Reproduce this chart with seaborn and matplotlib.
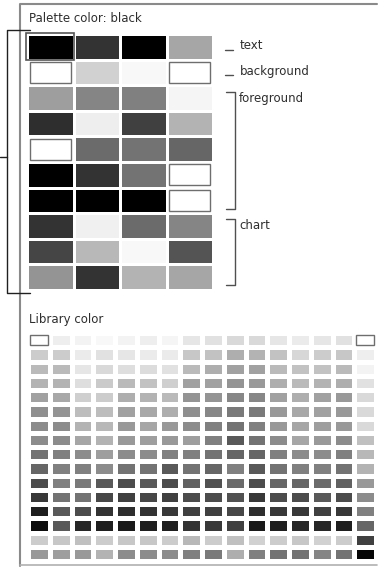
import matplotlib
matplotlib.use("Agg")
import matplotlib.pyplot as plt
import numpy as np
import seaborn as sns
from matplotlib.patches import Rectangle

# palette grid: gray level (0 = black, 1 = white), 10 rows x 4 columns
palette_rows = [
    [0.00, 0.20, 0.00, 0.65],
    [1.00, 0.82, 0.97, 1.00],
    [0.62, 0.52, 0.50, 0.96],
    [0.18, 0.93, 0.25, 0.70],
    [1.00, 0.42, 0.45, 0.40],
    [0.00, 0.20, 0.45, 1.00],
    [0.00, 0.00, 0.00, 1.00],
    [0.20, 0.94, 0.42, 0.52],
    [0.27, 0.72, 0.97, 0.33],
    [0.58, 0.20, 0.70, 0.65],
]
selected_cell = (0, 0)

# label groups to the right of the palette: (label, first row, last row)
palette_groups = [
    ("text", 0, 0),
    ("background", 1, 1),
    ("foreground", 2, 6),
    ("chart", 7, 9),
]

# library grid: 16 rows x 16 columns of gray levels
library_rows = [
    [1.00, 0.93, 0.95, 0.97, 0.95, 0.93, 0.96, 0.90, 0.88, 0.85, 0.85, 0.90, 0.92, 0.90, 0.88, 1.00],
    [0.80, 0.80, 0.92, 0.88, 0.90, 0.92, 0.92, 0.78, 0.76, 0.68, 0.70, 0.76, 0.84, 0.80, 0.78, 0.93],
    [0.73, 0.73, 0.90, 0.85, 0.87, 0.86, 0.88, 0.73, 0.68, 0.63, 0.63, 0.73, 0.76, 0.76, 0.73, 0.95],
    [0.70, 0.70, 0.87, 0.79, 0.73, 0.76, 0.81, 0.63, 0.63, 0.58, 0.60, 0.68, 0.73, 0.70, 0.68, 0.88],
    [0.63, 0.66, 0.81, 0.80, 0.68, 0.70, 0.73, 0.58, 0.58, 0.53, 0.53, 0.63, 0.68, 0.63, 0.60, 0.85],
    [0.56, 0.58, 0.74, 0.74, 0.63, 0.66, 0.68, 0.56, 0.53, 0.48, 0.48, 0.60, 0.66, 0.63, 0.60, 0.85],
    [0.55, 0.55, 0.70, 0.72, 0.60, 0.65, 0.60, 0.55, 0.50, 0.45, 0.50, 0.60, 0.65, 0.62, 0.60, 0.85],
    [0.55, 0.55, 0.65, 0.70, 0.60, 0.62, 0.60, 0.62, 0.50, 0.35, 0.45, 0.55, 0.65, 0.60, 0.55, 0.75],
    [0.45, 0.50, 0.55, 0.62, 0.55, 0.55, 0.50, 0.50, 0.45, 0.40, 0.40, 0.50, 0.55, 0.55, 0.50, 0.72],
    [0.40, 0.50, 0.50, 0.55, 0.45, 0.45, 0.35, 0.45, 0.40, 0.50, 0.35, 0.45, 0.50, 0.50, 0.45, 0.70],
    [0.30, 0.50, 0.48, 0.35, 0.30, 0.35, 0.30, 0.38, 0.32, 0.42, 0.30, 0.40, 0.40, 0.42, 0.38, 0.60],
    [0.22, 0.45, 0.45, 0.28, 0.25, 0.28, 0.25, 0.30, 0.30, 0.32, 0.22, 0.30, 0.30, 0.35, 0.30, 0.55],
    [0.12, 0.35, 0.30, 0.20, 0.18, 0.20, 0.22, 0.25, 0.25, 0.28, 0.18, 0.22, 0.22, 0.25, 0.22, 0.50],
    [0.05, 0.35, 0.15, 0.12, 0.10, 0.12, 0.12, 0.20, 0.22, 0.25, 0.10, 0.12, 0.15, 0.15, 0.12, 0.40],
    [0.80, 0.78, 0.75, 0.80, 0.78, 0.78, 0.80, 0.72, 0.80, 0.75, 0.82, 0.80, 0.78, 0.82, 0.80, 0.25],
    [0.60, 0.62, 0.60, 0.70, 0.55, 0.55, 0.55, 0.50, 0.48, 0.68, 0.50, 0.45, 0.45, 0.52, 0.45, 0.02],
]

palette_title = "Palette color: black"
library_title = "Library color"

W, H = 378, 567
INK = "#2e2e2e"
FRAME = "#8a8a8a"
FS = 8.5


def px_axes(fig, x0, y0, x1, y1):
    return fig.add_axes([x0 / W, 1 - y1 / H, (x1 - x0) / W, (y1 - y0) / H])


def outline_white(ax, grid, inset):
    arr = np.asarray(grid)
    for r, c in zip(*np.where(arr >= 0.99)):
        ax.add_patch(Rectangle((c + inset[0], r + inset[1]), 1 - 2 * inset[0], 1 - 2 * inset[1],
                               fill=False, edgecolor="#6e6e6e", lw=1.0))


sns.set_theme(style="white")
plt.rcParams["font.family"] = ["DejaVu Sans"]

fig = plt.figure(figsize=(W / 100, H / 100), dpi=100)
fig.patch.set_facecolor("white")

# overlay in pixel coordinates for frame, brackets and captions
ov = fig.add_axes([0, 0, 1, 1], zorder=3)
ov.set_xlim(0, W)
ov.set_ylim(H, 0)
ov.axis("off")
ov.patch.set_alpha(0)

# palette heatmap
ax_p = px_axes(fig, 27, 34, 213, 290)
sns.heatmap(np.asarray(palette_rows), ax=ax_p, cmap="gray", vmin=0, vmax=1, cbar=False,
            linewidths=1.9, linecolor="white", xticklabels=False, yticklabels=False)
outline_white(ax_p, palette_rows, (0.06, 0.09))
sr, sc = selected_cell
ax_p.add_patch(Rectangle((sc - 0.02, sr - 0.02), 1.04, 1.04, fill=False,
                         edgecolor="#555555", lw=1.2, clip_on=False))

# library heatmap
ax_l = px_axes(fig, 28, 333, 376, 561)
sns.heatmap(np.asarray(library_rows), ax=ax_l, cmap="gray", vmin=0, vmax=1, cbar=False,
            linewidths=2.4, linecolor="white", xticklabels=False, yticklabels=False)
outline_white(ax_l, library_rows, (0.1, 0.15))

# frame
ov.plot([20, 20, 377], [566, 4, 4], color=FRAME, lw=1.5)
ov.plot([20, 377], [565, 565], color="#b0b0b0", lw=1.2)

# captions
ov.text(29, 19, palette_title, fontsize=FS, color=INK, va="center", ha="left")
ov.text(29, 320, library_title, fontsize=FS, color=INK, va="center", ha="left")

# left bracket
ov.plot([30, 7, 7, 30], [30, 30, 293, 293], color="#202020", lw=1.0)
ov.plot([0, 7], [157, 157], color="#202020", lw=1.0)

# group labels on the right
y_top, pitch = 35, (289 - 35) / len(palette_rows)
for label, r0, r1 in palette_groups:
    if r0 == r1:
        yc = y_top + (r0 + 0.5) * pitch
        ov.plot([225, 233], [yc + 2, yc + 2], color="#505050", lw=1.0)
        ov.text(240, yc - 2, label, fontsize=FS, color=INK, va="center", ha="left")
    else:
        ya = y_top + r0 * pitch + 6
        yb = y_top + (r1 + 1) * pitch - 4
        ov.plot([226, 235, 235, 226], [ya, ya, yb, yb], color="#505050", lw=1.0)
        ov.text(239, ya + 7, label, fontsize=FS, color=INK, va="center", ha="left")

fig.savefig("out.png", dpi=100)
